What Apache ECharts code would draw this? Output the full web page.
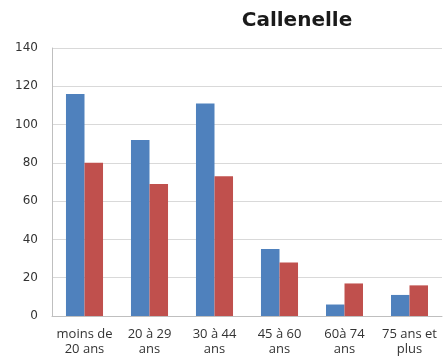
<!DOCTYPE html>
<html><head><meta charset="utf-8">
<script src="https://cdn.jsdelivr.net/npm/echarts@6/dist/echarts.min.js"></script>
<style>html,body{margin:0;padding:0;background:#fff}#c{width:443px;height:357px}</style>
</head><body><div id="c"></div>
<script>
var categories = ["moins de\n20 ans", "20 à 29\nans", "30 à 44\nans", "45 à 60\nans", "60à 74\nans", "75 ans et\nplus"];
var seriesA = [116, 92, 111, 35, 6, 11];
var seriesB = [80, 69, 73, 28, 17, 16];
var yTicks = {min: 0, max: 140, interval: 20};
var title = "Callenelle";

var chart = echarts.init(document.getElementById('c'), null, {renderer: 'canvas'});
chart.setOption({
  animation: false,
  backgroundColor: '#fff',
  title: {text: title, left: 292, top: 6, textAlign: 'center',
    textStyle: {fontFamily: 'DejaVu Sans', fontWeight: 'bold', fontSize: 20, color: '#1a1a1a'}},
  grid: {left: 52, right: 1, top: 48, bottom: 38},
  xAxis: {type: 'category', data: categories,
    axisLine: {lineStyle: {color: '#bfbfbf'}}, axisTick: {show: false},
    axisLabel: {interval: 0, margin: 11, fontFamily: 'Open Sans', fontSize: 13, color: '#333', lineHeight: 15}},
  yAxis: {type: 'value', min: yTicks.min, max: yTicks.max, interval: yTicks.interval,
    axisLine: {show: true, lineStyle: {color: '#bfbfbf'}}, axisTick: {show: false},
    splitLine: {lineStyle: {color: '#d9d9d9'}},
    axisLabel: {margin: 14, fontFamily: 'DejaVu Sans', fontSize: 12, color: '#333'}},
  series: [
    {type: 'bar', data: seriesA, itemStyle: {color: '#4F81BD'}, barGap: '0%', barCategoryGap: '43%'},
    {type: 'bar', data: seriesB, itemStyle: {color: '#C0504D'}, barGap: '0%', barCategoryGap: '43%'}
  ]
});
</script></body></html>
